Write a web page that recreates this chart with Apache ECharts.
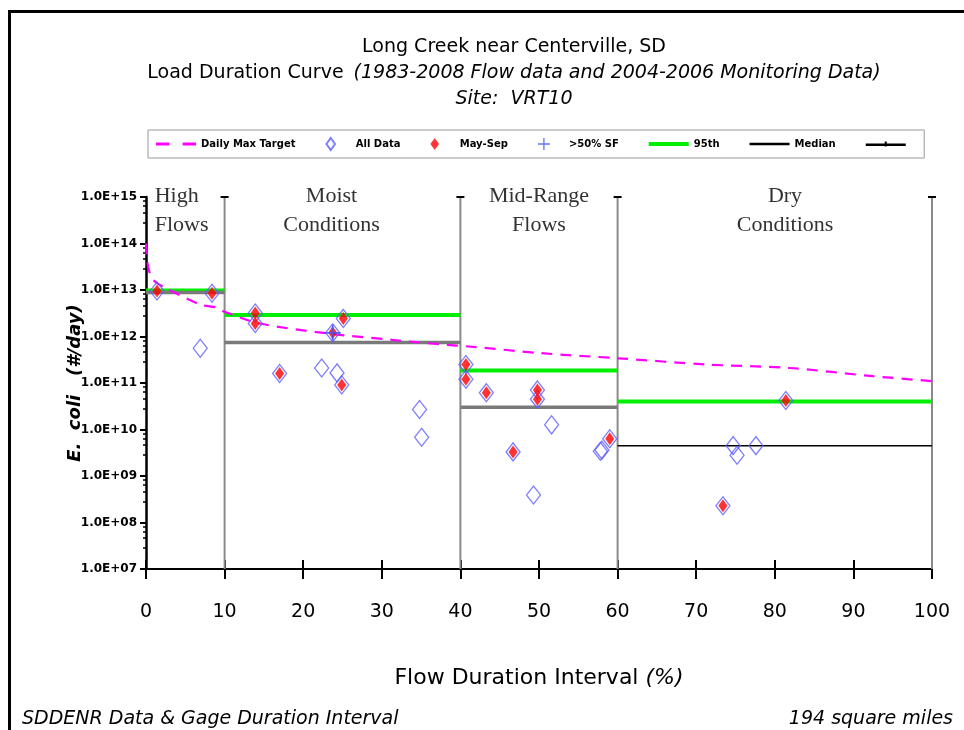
<!DOCTYPE html>
<html><head><meta charset="utf-8">
<script src="https://cdn.jsdelivr.net/npm/echarts@6/dist/echarts.min.js"></script>
<style>html,body{margin:0;padding:0;background:#fff}#c{width:964px;height:730px}</style>
</head><body><div id="c"></div>
<script>
// ---- data ----
const allX = [1.4, 8.4, 6.9, 13.9, 13.9, 17.0, 22.35, 23.75, 24.3, 24.9, 25.1, 34.8, 35.07, 40.7, 40.7, 43.3, 46.7, 49.3, 49.8, 49.8, 51.6, 57.8, 58.0, 59.0, 73.4, 74.7, 75.2, 77.6, 81.4];
const allY = [9.5e12, 8.5e12, 5.6e11, 3.2e12, 1.9e12, 1.6e11, 2.1e11, 1.2e12, 1.65e11, 9.1e10, 2.45e12, 2.7e10, 6.8e9, 2.5e11, 1.2e11, 6.2e10, 3.3e9, 3.9e8, 7.1e10, 4.5e10, 1.26e10, 3.4e9, 3.6e9, 6.3e9, 2.3e8, 4.5e9, 2.8e9, 4.5e9, 4.2e10];
const maySepX = [1.4, 8.4, 13.9, 13.9, 17.0, 23.75, 24.9, 25.1, 40.7, 40.7, 43.3, 46.7, 49.8, 49.8, 59.0, 73.4, 81.4];
const maySepY = [9.5e12, 8.5e12, 3.2e12, 1.9e12, 1.6e11, 1.2e12, 9.1e10, 2.45e12, 2.5e11, 1.2e11, 6.2e10, 3.3e9, 7.1e10, 4.5e10, 6.3e9, 2.3e8, 4.2e10];
const sfX = [23.75];
const sfY = [1.2e12];
const targetX = [0, 0.3, 1, 3, 7, 9, 10, 14.5, 23, 31.5, 37.4, 41.6, 50.1, 60.1, 71.3, 81.9, 92.5, 100];
const targetY = [1e14, 3e13, 1.6e13, 1e13, 4.8e12, 4.2e12, 3.4e12, 1.9e12, 1.17e12, 8.4e11, 6.8e11, 6e11, 4.4e11, 3.4e11, 2.5e11, 2.1e11, 1.4e11, 1.1e11];
const zoneStart = [0, 10, 40, 60];
const zoneEnd = [10, 40, 60, 100];
const p95 = [9.7e12, 2.9e12, 1.85e11, 4.0e10];
const median = [8.8e12, 7.4e11, 3.0e10, 4.5e9];
const dividers = [10, 40, 60, 100];
const zoneNames = ['High\nFlows', 'Moist\nConditions', 'Mid-Range\nFlows', 'Dry\nConditions'];
const zoneLabelX = [1.1, 23.6, 50, 81.3];
const xTicks = [0, 10, 20, 30, 40, 50, 60, 70, 80, 90, 100];

const chart = echarts.init(document.getElementById('c'), null, {renderer: 'canvas'});
const comic = 'DejaVu Sans';
const series = [];

dividers.forEach(d => {
  series.push({type: 'line', silent: true, z: 1,
    data: [{value: [d, 1e7], symbol: 'none'}, {value: [d, 1e15], symbol: 'rect', symbolSize: [8, 2], itemStyle: {color: '#000'}}],
    lineStyle: {color: '#8a8a8a', width: 2}, showSymbol: true});
});
zoneStart.forEach((s, i) => {
  series.push({name: '95th', type: 'line', z: 3, symbol: 'none',
    data: [[s, p95[i]], [zoneEnd[i], p95[i]]],
    lineStyle: {color: '#00ee00', width: 4}, itemStyle: {color: '#00ee00'}});
});
series.push({name: 'Median', type: 'line', z: 3, symbol: 'none',
  data: [[zoneStart[3], median[3]], [zoneEnd[3], median[3]]],
  lineStyle: {color: '#000', width: 1.5}, itemStyle: {color: '#000'}});
for (let i = 0; i < 3; i++) {
  series.push({name: '\u00a0', type: 'line', z: 3, symbol: 'none',
    data: [[zoneStart[i], median[i]], [zoneEnd[i], median[i]]],
    lineStyle: {color: '#7a7a7a', width: 3.5}, itemStyle: {color: '#000'}});
}
series.push({name: 'Daily Max Target', type: 'line', z: 4, symbol: 'none', smooth: 0.3,
  data: targetX.map((x, i) => [x, targetY[i]]),
  lineStyle: {color: '#ff00ff', width: 2.2, type: [11, 8]}, itemStyle: {color: '#ff00ff'}});
series.push({name: 'All Data', type: 'scatter', z: 5, symbol: 'diamond', symbolSize: [14, 18],
  data: allX.map((x, i) => [x, allY[i]]),
  itemStyle: {color: 'rgba(0,0,0,0)', borderColor: '#5c5cff', borderWidth: 1.3}});
series.push({name: 'May-Sep', type: 'scatter', z: 6, symbol: 'diamond', symbolSize: [9, 13],
  data: maySepX.map((x, i) => [x, maySepY[i]]),
  itemStyle: {color: '#ff0000'}});
series.push({name: '>50% SF', type: 'scatter', z: 7, symbol: 'path://M4,0h1v4h4v1h-4v4h-1v-4h-4v-1h4z', symbolSize: 16,
  data: sfX.map((x, i) => [x, sfY[i]]),
  itemStyle: {color: '#3355ff'}});

const lineIcon = 'path://M0,0h40v2.5h-40z';
const option = {
  animation: false,
  backgroundColor: '#fff',
  title: [
    {text: 'Long Creek near Centerville, SD', left: 509, top: 33, textAlign: 'center',
      textStyle: {fontFamily: comic, fontSize: 19, fontWeight: 'normal', color: '#000'}},
    {text: '{n|Load Duration Curve}  {i|(1983-2008 Flow data and 2004-2006 Monitoring Data)}', left: 509, top: 59, textAlign: 'center',
      textStyle: {fontWeight: 'normal', rich: {n: {fontFamily: comic, fontSize: 19, fontWeight: 'normal', color: '#000'}, i: {fontFamily: comic, fontSize: 19, fontWeight: 'normal', fontStyle: 'italic', color: '#000'}}}},
    {text: 'Site:  VRT10', left: 509, top: 85, textAlign: 'center',
      textStyle: {fontFamily: comic, fontSize: 19, fontStyle: 'italic', fontWeight: 'normal', color: '#000'}},
    {text: 'SDDENR Data & Gage Duration Interval', left: 17, top: 705,
      textStyle: {fontFamily: comic, fontSize: 19, fontStyle: 'italic', fontWeight: 'normal', color: '#000'}},
    {text: '194 square miles', right: 6, top: 705,
      textStyle: {fontFamily: comic, fontSize: 19, fontStyle: 'italic', fontWeight: 'normal', color: '#000'}}
  ],
  legend: {
    left: 148, top: 130, padding: [7, 10, 7, 8], borderColor: '#999', borderWidth: 1,
    itemGap: 30, itemWidth: 40, itemHeight: 12,
    data: [
      {name: 'Daily Max Target', icon: 'path://M0,0h12v2.5h-12zM24,0h12v2.5h-12z'},
      {name: 'All Data', icon: 'path://M5,0L10,7L5,14L0,7Z'},
      {name: 'May-Sep', icon: 'path://M5,0L10,7L5,14L0,7Z'},
      {name: '>50% SF'},
      {name: '95th', icon: 'path://M0,0h40v4h-40z'},
      {name: 'Median', icon: lineIcon},
      {name: '\u00a0', icon: 'path://M0,0h40v2.5h-40zM19,-2h2v5h-2z', itemStyle: {color: '#000'}}
    ],
    textStyle: {fontFamily: comic, fontSize: 10, fontWeight: 'bold', color: '#000'}
  },
  grid: {left: 146, right: 32, top: 197, bottom: 161},
  xAxis: [{
    type: 'value', min: 0, max: 100, interval: 10,
    name: '{n|Flow Duration Interval }{i|(%)}', nameLocation: 'middle', nameGap: 98,
    nameTextStyle: {rich: {n: {fontFamily: comic, fontSize: 22, color: '#000'}, i: {fontFamily: comic, fontSize: 22, fontStyle: 'italic', color: '#000'}}},
    axisLine: {lineStyle: {color: '#000', width: 2}},
    axisTick: {length: 10, lineStyle: {color: '#000', width: 2}},
    axisLabel: {margin: 34, fontFamily: comic, fontSize: 19, color: '#000',
      formatter: v => xTicks.includes(v) ? String(v) : ''},
    splitLine: {show: false}
  }, {
    type: 'value', min: 0, max: 100, interval: 10, position: 'bottom',
    axisLine: {show: false}, axisLabel: {show: false}, splitLine: {show: false},
    axisTick: {inside: true, length: 9, lineStyle: {color: '#000', width: 2}}
  }],
  yAxis: {
    type: 'log', logBase: 10, min: 1e7, max: 1e15, interval: 1,
    name: 'E.  coli   (#/day)', nameLocation: 'middle', nameGap: 62, nameMoveOverlap: false,
    nameTextStyle: {fontFamily: comic, fontSize: 18, fontWeight: 'bold', fontStyle: 'italic', color: '#000'},
    axisLine: {lineStyle: {color: '#000', width: 2.5}},
    axisTick: {length: 6, lineStyle: {color: '#000', width: 2}},
    minorTick: {show: true, splitNumber: 5, length: 3, lineStyle: {color: '#000', width: 1.5}},
    axisLabel: {margin: 9, fontFamily: comic, fontSize: 12, fontWeight: 'bold', color: '#000',
      formatter: v => { const e = Math.round(Math.log10(v)); return '1.0E+' + (e < 10 ? '0' + e : e); }},
    splitLine: {show: false}
  },
  series: series
};
chart.setOption(option);

const g = [{type: 'rect', shape: {x: 9.5, y: 11.5, width: 1000, height: 800}, style: {fill: 'none', stroke: '#000', lineWidth: 3}, silent: true}];
zoneNames.forEach((t, i) => {
  const x = chart.convertToPixel({xAxisIndex: 0}, zoneLabelX[i]);
  g.push({type: 'text', x: x, y: 182, silent: true,
    style: {text: t, align: i === 0 ? 'left' : 'center', fill: '#333', font: '22px "Liberation Serif"', lineHeight: 29}});
});
chart.setOption({graphic: g});
</script></body></html>
